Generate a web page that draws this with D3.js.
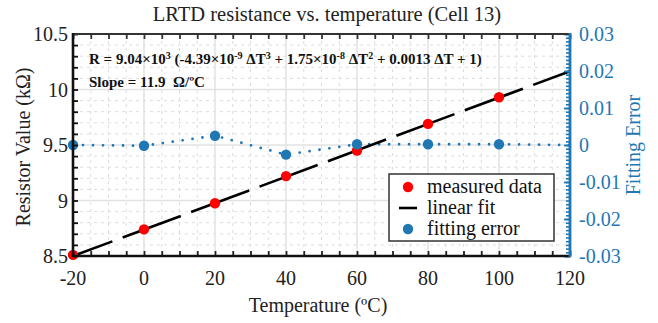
<!DOCTYPE html>
<html>
<head>
<meta charset="utf-8">
<script src="https://cdn.jsdelivr.net/npm/d3@7"></script>
<style>
  body { margin: 0; background: #fff; }
  svg { font-family: "Liberation Serif", "Times New Roman", serif; }
</style>
</head>
<body>
<svg id="chart" width="658" height="323"></svg>
<script>
// measured data
const temps = [-20, 0, 20, 40, 60, 80, 100];
const measured = [8.51, 8.74, 8.975, 9.22, 9.45, 9.69, 9.93];
// linear fit end points
const fitTemps = [-20, 120];
const fitValues = [8.5, 10.165];
// fitting error
const errTemps = [-20, 0, 20, 40, 60, 80, 100, 120];
const errValues = [0, -0.0002, 0.0025, -0.0026, 0.0002, 0.0002, 0.0002, 0];
const errMarkTemps = [-20, 0, 20, 40, 60, 80, 100];

const xTicks = [-20, 0, 20, 40, 60, 80, 100, 120];
const yTicks = [8.5, 9, 9.5, 10, 10.5];
const y2Ticks = [-0.03, -0.02, -0.01, 0, 0.01, 0.02, 0.03];
const y2Labels = ["-0.03", "-0.02", "-0.01", "0", "0.01", "0.02", "0.03"];

const blue = "#1f77b4";
const pLeft = 73, pRight = 570, pTop = 34, pBottom = 256;
const fs = 20;

const svg = d3.select("#chart");

const x = d3.scaleLinear().domain([-20, 120]).range([pLeft, pRight]);
const y = d3.scaleLinear().domain([8.5, 10.5]).range([pBottom, pTop]);
const y2 = d3.scaleLinear().domain([-0.03, 0.03]).range([pBottom, pTop]);

const xMinor = d3.range(-20, 120.01, 5);
const yMinor = d3.range(85, 105.01, 1).map(d => d / 10);
const y2Minor = d3.range(-30, 30.01, 1).map(d => d / 1000);

// minor grid
const grid = svg.append("g");
grid.selectAll(".vminor")
    .data(xMinor.filter(d => d % 20 !== 0))
    .enter().append("line")
    .attr("x1", d => x(d)).attr("x2", d => x(d))
    .attr("y1", pTop).attr("y2", pBottom)
    .attr("stroke", "#dcdcdc").attr("stroke-width", 1)
    .attr("stroke-dasharray", "3,4");
grid.selectAll(".hminor")
    .data(yMinor.filter(d => Math.abs(d * 2 - Math.round(d * 2)) > 1e-6))
    .enter().append("line")
    .attr("x1", pLeft).attr("x2", pRight)
    .attr("y1", d => y(d)).attr("y2", d => y(d))
    .attr("stroke", "#dcdcdc").attr("stroke-width", 1)
    .attr("stroke-dasharray", "3,4");
// major grid
grid.selectAll(".vmajor")
    .data(xTicks)
    .enter().append("line")
    .attr("x1", d => x(d)).attr("x2", d => x(d))
    .attr("y1", pTop).attr("y2", pBottom)
    .attr("stroke", "#e2e2e2").attr("stroke-width", 1.5);
grid.selectAll(".hmajor")
    .data(yTicks)
    .enter().append("line")
    .attr("x1", pLeft).attr("x2", pRight)
    .attr("y1", d => y(d)).attr("y2", d => y(d))
    .attr("stroke", "#e2e2e2").attr("stroke-width", 1.5);

// fitting error dotted line
const errData = errTemps.map((t, i) => ({ t: t, v: errValues[i] }));
svg.append("path")
    .datum(errData)
    .attr("d", d3.line().x(d => x(d.t)).y(d => y2(d.v)))
    .attr("fill", "none")
    .attr("stroke", blue)
    .attr("stroke-width", 2.8)
    .attr("stroke-linecap", "round")
    .attr("stroke-dasharray", "0,10");

// linear fit
const fitData = fitTemps.map((t, i) => ({ t: t, v: fitValues[i] }));
svg.append("path")
    .datum(fitData)
    .attr("d", d3.line().x(d => x(d.t)).y(d => y(d.v)))
    .attr("fill", "none")
    .attr("stroke", "#000")
    .attr("stroke-width", 2.6)
    .attr("stroke-dasharray", "62,11")
    .attr("stroke-dashoffset", 20);

// measured points
svg.append("g").selectAll("circle")
    .data(temps.map((t, i) => ({ t: t, v: measured[i] })))
    .enter().append("circle")
    .attr("cx", d => x(d.t)).attr("cy", d => y(d.v))
    .attr("r", 5.2).attr("fill", "#ff0000");

// fitting error points
svg.append("g").selectAll("circle")
    .data(errData.filter(d => errMarkTemps.includes(d.t)))
    .enter().append("circle")
    .attr("cx", d => x(d.t)).attr("cy", d => y2(d.v))
    .attr("r", 5.2).attr("fill", blue);

// axes
function styleAxis(g, color, width) {
    g.select(".domain").remove();
    g.selectAll(".tick line").attr("stroke", color).attr("stroke-width", width);
    g.selectAll(".tick text").remove();
}
// minor ticks (inward)
svg.append("g").attr("transform", `translate(0,${pBottom})`)
    .call(d3.axisBottom(x).tickValues(xMinor).tickSize(-5))
    .call(g => styleAxis(g, "#222", 1.8));
svg.append("g").attr("transform", `translate(0,${pTop})`)
    .call(d3.axisTop(x).tickValues(xMinor).tickSize(-5))
    .call(g => styleAxis(g, "#333", 1.8));
svg.append("g").attr("transform", `translate(${pLeft},0)`)
    .call(d3.axisLeft(y).tickValues(yMinor).tickSize(-5))
    .call(g => styleAxis(g, "#111", 1.8));
svg.append("g").attr("transform", `translate(${pRight},0)`)
    .call(d3.axisRight(y2).tickValues(y2Minor).tickSize(-4))
    .call(g => styleAxis(g, blue, 1.6));
svg.append("g").attr("transform", `translate(${pRight},0)`)
    .call(d3.axisRight(y2).tickValues(y2Ticks).tickSize(-6))
    .call(g => styleAxis(g, blue, 1.8));

// axis lines
svg.append("line").attr("x1", pLeft).attr("x2", pRight).attr("y1", pTop).attr("y2", pTop)
    .attr("stroke", "#333").attr("stroke-width", 2.2);
svg.append("line").attr("x1", pLeft).attr("x2", pRight + 1).attr("y1", pBottom).attr("y2", pBottom)
    .attr("stroke", "#111").attr("stroke-width", 2.6);
svg.append("line").attr("x1", pLeft).attr("x2", pLeft).attr("y1", pTop - 1).attr("y2", pBottom + 1)
    .attr("stroke", "#111").attr("stroke-width", 2.6);
svg.append("line").attr("x1", pRight).attr("x2", pRight).attr("y1", pTop - 1).attr("y2", pBottom + 1)
    .attr("stroke", blue).attr("stroke-width", 2.8);

// tick labels
svg.append("g").selectAll("text")
    .data(xTicks).enter().append("text")
    .attr("x", d => x(d)).attr("y", 285)
    .attr("text-anchor", "middle")
    .attr("font-size", fs).attr("fill", "#222")
    .text(d => d);
svg.append("g").selectAll("text")
    .data(yTicks).enter().append("text")
    .attr("x", 68).attr("y", d => y(d) + 7)
    .attr("text-anchor", "end")
    .attr("font-size", fs).attr("fill", "#222")
    .text(d => d);
svg.append("g").selectAll("text")
    .data(y2Ticks).enter().append("text")
    .attr("x", 579).attr("y", d => y2(d) + 7)
    .attr("text-anchor", "start")
    .attr("font-size", fs).attr("fill", blue)
    .text((d, i) => y2Labels[i]);

// axis titles
svg.append("text")
    .attr("x", 318).attr("y", 312)
    .attr("text-anchor", "middle").attr("font-size", fs).attr("fill", "#222")
    .text("Temperature (ºC)");
svg.append("text")
    .attr("transform", "translate(30,147) rotate(-90)")
    .attr("text-anchor", "middle").attr("font-size", fs).attr("fill", "#222")
    .text("Resistor Value (kΩ)");
svg.append("text")
    .attr("transform", "translate(640,145) rotate(-90)")
    .attr("text-anchor", "middle").attr("font-size", fs).attr("fill", blue)
    .text("Fitting Error");
svg.append("text")
    .attr("x", 327).attr("y", 21)
    .attr("text-anchor", "middle").attr("font-size", 20.5).attr("fill", "#222")
    .text("LRTD resistance vs. temperature (Cell 13)");

// equation annotation
const eq = svg.append("text")
    .attr("x", 89).attr("y", 64)
    .attr("font-size", 15).attr("font-weight", "bold").attr("fill", "#111");
const parts = [
    ["R = 9.04×10", 0], ["3", 1], [" (-4.39×10", 0], ["-9", 1], [" ΔT", 0], ["3", 1],
    [" + 1.75×10", 0], ["-8", 1], [" ΔT", 0], ["2", 1], [" + 0.0013 ΔT + 1)", 0]
];
parts.forEach(p => {
    eq.append("tspan")
        .attr("font-size", p[1] ? 10 : 15)
        .attr("baseline-shift", p[1] ? "55%" : null)
        .text(p[0]);
});
svg.append("text")
    .attr("x", 89).attr("y", 87)
    .attr("font-size", 15).attr("font-weight", "bold").attr("fill", "#111")
    .attr("xml:space", "preserve")
    .text("Slope = 11.9  Ω/ºC");

// legend
const lg = svg.append("g");
lg.append("rect")
    .attr("x", 389).attr("y", 174).attr("width", 165).attr("height", 67)
    .attr("fill", "#fff").attr("stroke", "#333").attr("stroke-width", 1.5);
lg.append("circle").attr("cx", 408).attr("cy", 187).attr("r", 5.2).attr("fill", "#ff0000");
lg.append("line").attr("x1", 399).attr("x2", 417).attr("y1", 208).attr("y2", 208)
    .attr("stroke", "#000").attr("stroke-width", 2.6);
lg.append("circle").attr("cx", 408).attr("cy", 229).attr("r", 5.2).attr("fill", blue);
const legendLabels = ["measured data", "linear fit", "fitting error"];
lg.selectAll(".lt").data(legendLabels).enter().append("text")
    .attr("x", 427).attr("y", (d, i) => 193 + i * 21)
    .attr("font-size", fs).attr("fill", "#111")
    .text(d => d);
</script>
</body>
</html>
